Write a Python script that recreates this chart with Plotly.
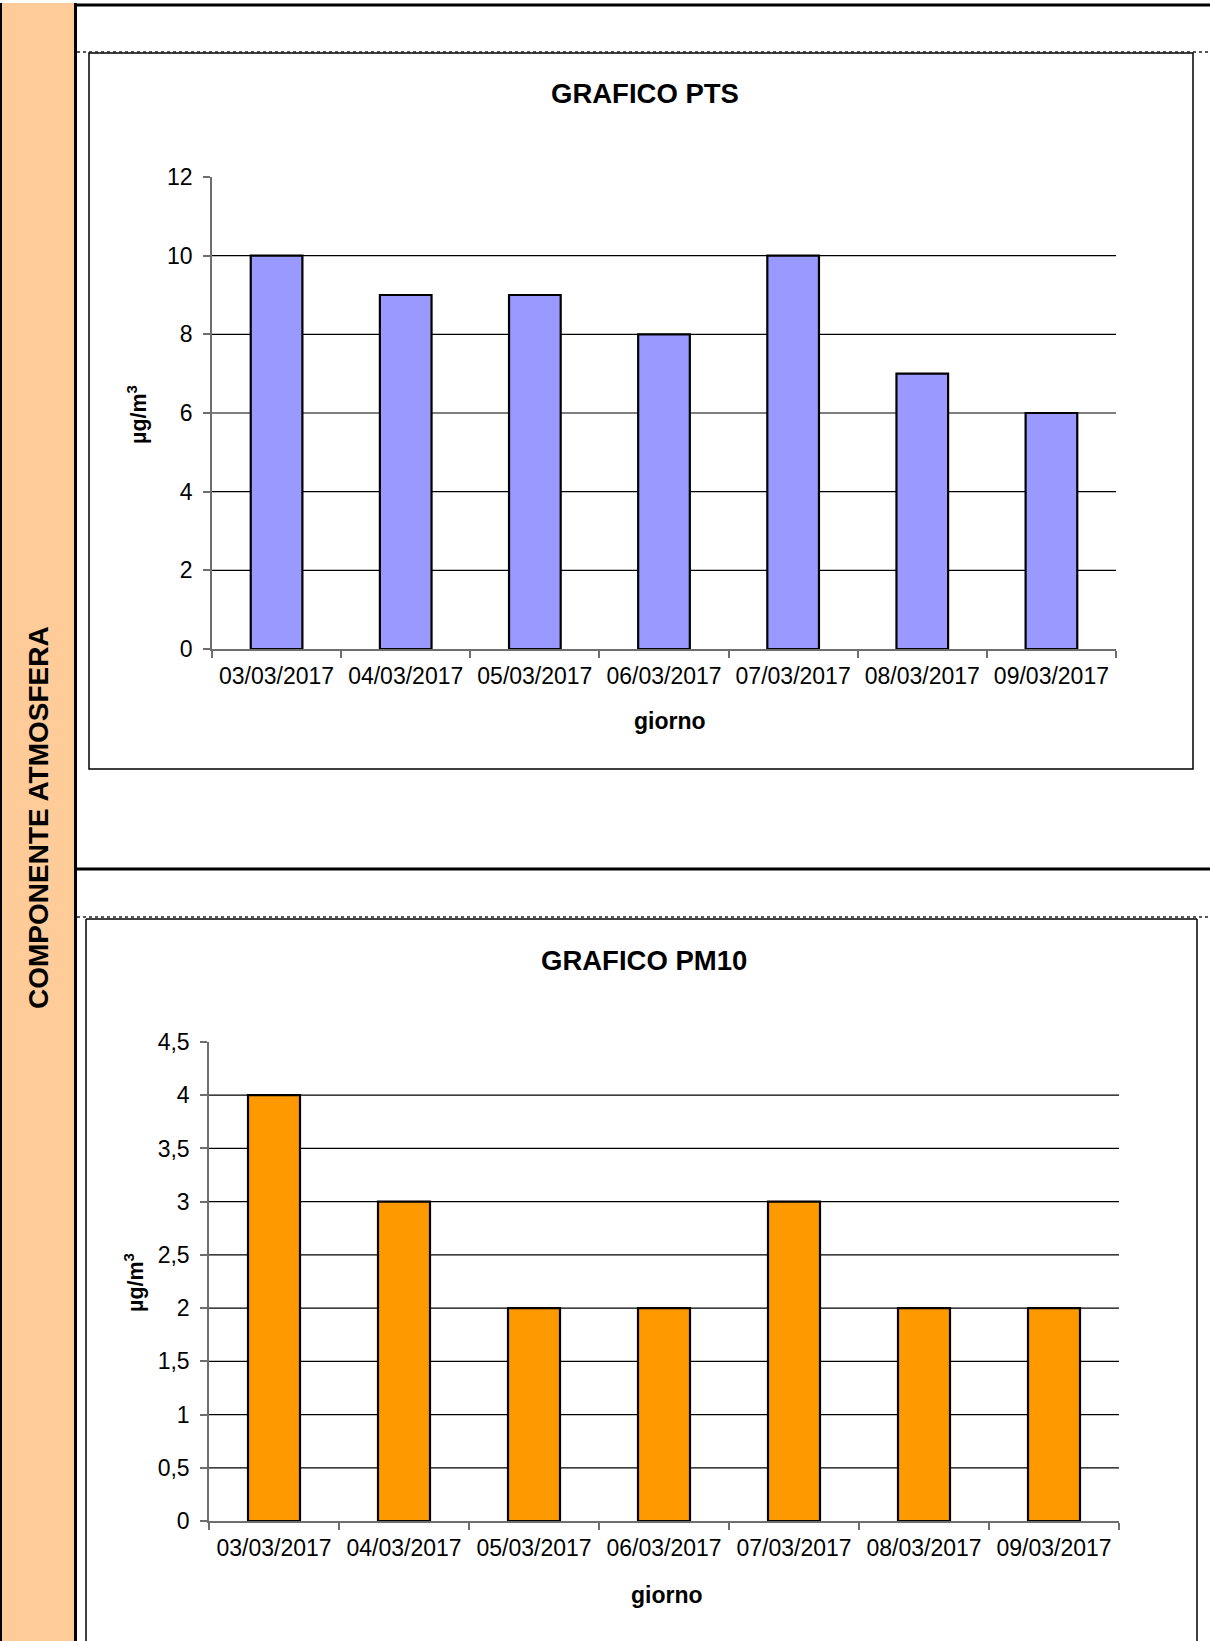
import plotly.graph_objects as go

W, H = 1210, 1641

# ---------------- data ----------------
days = ["03/03/2017", "04/03/2017", "05/03/2017", "06/03/2017",
        "07/03/2017", "08/03/2017", "09/03/2017"]
pts_values = [10, 9, 9, 8, 10, 7, 6]
pm10_values = [4, 3, 2, 2, 3, 2, 2]

pts_tickvals = [0, 2, 4, 6, 8, 10, 12]
pts_ticktext = ["0", "2", "4", "6", "8", "10", "12"]
pm10_tickvals = [0, 0.5, 1, 1.5, 2, 2.5, 3, 3.5, 4, 4.5]
pm10_ticktext = ["0", "0,5", "1", "1,5", "2", "2,5", "3", "3,5", "4", "4,5"]

title_pts = "GRAFICO PTS"
title_pm10 = "GRAFICO PM10"
x_title = "giorno"
y_title = "µg/m<sup>3</sup>"
band_text = "COMPONENTE ATMOSFERA"

# ---------------- helpers ----------------
FONT = "Liberation Sans, Arial, sans-serif"


def px(x):
    return x / W


def py(y):
    return 1 - y / H


fig = go.Figure()

fig.add_trace(go.Bar(x=days, y=pts_values, xaxis="x", yaxis="y",
                     marker=dict(color="#9999FF", line=dict(color="black", width=2.2)),
                     showlegend=False, hoverinfo="x+y"))
fig.add_trace(go.Bar(x=days, y=pm10_values, xaxis="x2", yaxis="y2",
                     marker=dict(color="#FF9900", line=dict(color="black", width=2.2)),
                     showlegend=False, hoverinfo="x+y"))

axis_line = "#6e6e6e"
tickfont = dict(family=FONT, size=23, color="black")

xcommon = dict(type="category", showline=True, linecolor=axis_line, linewidth=1.5,
               ticks="outside", tickson="boundaries", ticklen=7, tickcolor=axis_line,
               tickwidth=1.5, tickfont=tickfont, tickangle=0, showgrid=False,
               zeroline=False, range=[-0.5, 6.5], fixedrange=True, ticklabelstandoff=6)
ycommon = dict(showline=True, linecolor=axis_line, linewidth=1.5, ticks="outside",
               ticklen=7, tickcolor=axis_line, tickwidth=1.5, tickfont=tickfont,
               showgrid=False, zeroline=False, fixedrange=True, ticklabelstandoff=6)

fig.update_layout(
    width=W, height=H, autosize=False,
    margin=dict(l=0, r=0, t=0, b=0, pad=0, autoexpand=False),
    paper_bgcolor="white", plot_bgcolor="rgba(0,0,0,0)",
    bargap=0.6,
    font=dict(family=FONT, color="black"),
    xaxis=dict(domain=[px(212), px(1116)], anchor="y", **xcommon),
    yaxis=dict(domain=[py(649), py(177)], anchor="x", range=[0, 12],
               tickvals=pts_tickvals, ticktext=pts_ticktext, **ycommon),
    xaxis2=dict(domain=[px(209), px(1119)], anchor="y2", **xcommon),
    yaxis2=dict(domain=[py(1521), py(1042)], anchor="x2", range=[0, 4.5],
                tickvals=pm10_tickvals, ticktext=pm10_ticktext, **ycommon),
)

shapes = []
# horizontal gridlines (not at the axis base, not at the top end)
for v in pts_tickvals[1:-1]:
    shapes.append(dict(type="line", xref="x domain", yref="y", x0=0, x1=1, y0=v, y1=v,
                       line=dict(color="black", width=1.2), layer="below"))
for v in pm10_tickvals[1:-1]:
    shapes.append(dict(type="line", xref="x2 domain", yref="y2", x0=0, x1=1, y0=v, y1=v,
                       line=dict(color="black", width=1.2), layer="below"))

# page frame / decoration (kept inside the paper)
shapes += [
    dict(type="rect", xref="paper", yref="paper", x0=px(1), x1=px(75), y0=0, y1=py(3),
         fillcolor="#FFCC99", line=dict(width=0), layer="below"),
    dict(type="line", xref="paper", yref="paper", x0=px(1), x1=px(1), y0=0, y1=py(3),
         line=dict(color="black", width=2)),
    dict(type="line", xref="paper", yref="paper", x0=px(75.5), x1=px(75.5), y0=0, y1=py(3),
         line=dict(color="black", width=3)),
    dict(type="line", xref="paper", yref="paper", x0=px(74), x1=1, y0=py(5), y1=py(5),
         line=dict(color="black", width=3)),
    dict(type="line", xref="paper", yref="paper", x0=px(74), x1=1, y0=py(869), y1=py(869),
         line=dict(color="black", width=3)),
    dict(type="line", xref="paper", yref="paper", x0=px(77), x1=1, y0=py(52), y1=py(52),
         line=dict(color="#222222", width=1.5, dash="dot")),
    dict(type="line", xref="paper", yref="paper", x0=px(77), x1=1, y0=py(917), y1=py(917),
         line=dict(color="#222222", width=1.5, dash="dot")),
    # chart boxes
    dict(type="rect", xref="paper", yref="paper", x0=px(89), x1=px(1193), y0=py(769), y1=py(53),
         line=dict(color="black", width=1.5), fillcolor="rgba(0,0,0,0)", layer="below"),
    dict(type="line", xref="paper", yref="paper", x0=px(86), x1=px(1197), y0=py(919), y1=py(919),
         line=dict(color="black", width=1.5), layer="below"),
    dict(type="line", xref="paper", yref="paper", x0=px(86), x1=px(86), y0=0, y1=py(919),
         line=dict(color="black", width=1.5), layer="below"),
    dict(type="line", xref="paper", yref="paper", x0=px(1197), x1=px(1197), y0=0, y1=py(919),
         line=dict(color="black", width=1.5), layer="below"),
]
fig.update_layout(shapes=shapes)

bold = dict(family=FONT, color="black", weight="bold")
annotations = [
    dict(text=title_pts, x=px(645), y=py(94), font=dict(size=27.5, **bold)),
    dict(text=title_pm10, x=px(644), y=py(960), font=dict(size=27.5, **bold)),
    dict(text=x_title, x=px(670), y=py(721), font=dict(size=23, **bold)),
    dict(text=x_title, x=px(667), y=py(1595), font=dict(size=23, **bold)),
    dict(text=y_title, x=px(137), y=py(415), textangle=-90, font=dict(size=21.5, **bold)),
    dict(text=y_title, x=px(134), y=py(1283), textangle=-90, font=dict(size=21.5, **bold)),
    dict(text=band_text, x=px(38), y=py(818), textangle=-90, font=dict(size=28, **bold)),
]
for a in annotations:
    a.update(xref="paper", yref="paper", showarrow=False, xanchor="center", yanchor="middle")
fig.update_layout(annotations=annotations)

fig.write_html(
    "out.html",
    config={"displayModeBar": False},
    post_script=(
        "document.documentElement.style.margin='0';"
        "document.documentElement.style.overflow='hidden';"
        "document.body.style.margin='0';document.body.style.padding='0';"
        "document.body.style.overflow='hidden';"
        "var gd=document.getElementById('{plot_id}');"
        "gd.style.position='fixed';gd.style.top='0px';gd.style.left='0px';"
    ),
)
